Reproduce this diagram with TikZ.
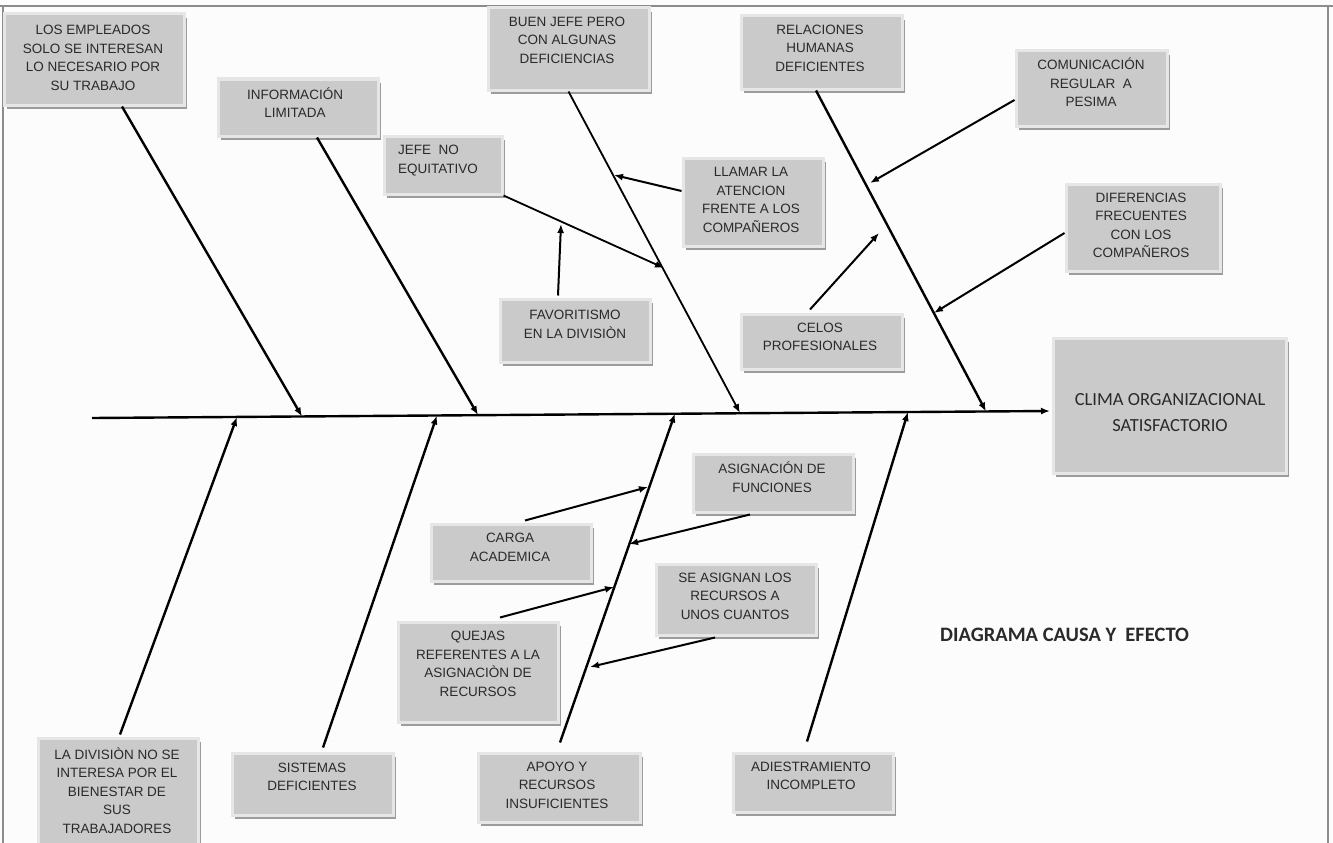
\documentclass[tikz,border=0pt]{standalone}
\usepackage{fontspec}
\setmainfont{Liberation Sans}
\newfontfamily\carlito{Carlito}
\usetikzlibrary{arrows.meta,shadows,calc}
\definecolor{boxgray}{HTML}{CACACA}
\definecolor{rimgray}{HTML}{E6E6E6}
\definecolor{shadowgray}{HTML}{9C9C9C}
\definecolor{txt}{HTML}{2A2A2A}
\definecolor{bgcol}{HTML}{FCFCFC}
\definecolor{framecol}{HTML}{8C8C8C}
\tikzset{
  cbox/.style={fill=boxgray, draw=rimgray, line width=3pt, inner sep=0pt,
    drop shadow={shadow xshift=2.5pt, shadow yshift=-4pt, fill=shadowgray, opacity=1}},
  btext/.style={font=\fontsize{13.5}{18.5}\selectfont, text=txt, align=center, inner sep=0pt,
    execute at begin node=\strut, execute at end node=\strut},
  bone/.style={line width=2.4pt, -{Latex[length=9pt,width=7pt]}},
  thinbone/.style={line width=1.8pt, -{Latex[length=9pt,width=7pt]}},
  subarrow/.style={line width=2pt, -{Latex[length=9pt,width=7pt]}},
  frameline/.style={framecol, line width=1.2pt},
}
\begin{document}
\begin{tikzpicture}[x=1pt,y=-1pt]
\useasboundingbox (0,0) rectangle (1333,843);
\fill[bgcol] (0,0) rectangle (1333,843);
\clip (0,0) rectangle (1333,843);
% page frame
\draw[frameline] (0,6) -- (1333,6);
\draw[frameline] (3,6) -- (3,843);
\draw[frameline] (1328,6) -- (1328,843);

% boxes
\node[cbox, minimum width=180pt, minimum height=91pt] (bA) at (94,59.5) {};
\node[cbox, minimum width=160pt, minimum height=57pt] (bB) at (298,107.5) {};
\node[cbox, minimum width=118pt, minimum height=58pt] (bC) at (443,165) {};
\node[cbox, minimum width=161pt, minimum height=82pt] (bD) at (568.5,49) {};
\node[cbox, minimum width=161pt, minimum height=73pt] (bE) at (821.5,52.5) {};
\node[cbox, minimum width=151pt, minimum height=75pt] (bF) at (1091.5,88.5) {};
\node[cbox, minimum width=140pt, minimum height=88pt] (bG) at (753,202) {};
\node[cbox, minimum width=154pt, minimum height=87pt] (bH) at (1143,227.5) {};
\node[cbox, minimum width=150pt, minimum height=63pt] (bI) at (575,330.5) {};
\node[cbox, minimum width=161pt, minimum height=55pt] (bJ) at (821.5,341.5) {};
\node[cbox, minimum width=233pt, minimum height=135pt] (bK) at (1169.5,405.5) {};
\node[cbox, minimum width=160pt, minimum height=121pt] (bL) at (118,798.5) {};
\node[cbox, minimum width=161pt, minimum height=62pt] (bM) at (312.5,784) {};
\node[cbox, minimum width=162pt, minimum height=69pt] (bN) at (559,787.5) {};
\node[cbox, minimum width=160pt, minimum height=59pt] (bO) at (813,782.5) {};
\node[cbox, minimum width=160pt, minimum height=57pt] (bP) at (511,552.5) {};
\node[cbox, minimum width=160pt, minimum height=100pt] (bQ) at (478,672) {};
\node[cbox, minimum width=160pt, minimum height=58pt] (bR) at (773,483) {};
\node[cbox, minimum width=160pt, minimum height=71pt] (bS) at (736,599.5) {};

% texts
\node[btext] (tA) at (93,60.5) {LOS EMPLEADOS\\SOLO SE INTERESAN\\LO NECESARIO POR\\SU TRABAJO};
\node[btext] (tB) at (295,105.5) {INFORMACIÓN\\LIMITADA};
\node[btext, align=left, anchor=west] (tC) at (398,162) {JEFE~ NO\\EQUITATIVO};
\node[btext] (tD) at (567,42.7) {BUEN JEFE PERO\\CON ALGUNAS\\DEFICIENCIAS};
\node[btext] (tE) at (820,50.7) {RELACIONES\\HUMANAS\\DEFICIENTES};
\node[btext] (tF) at (1091,85.3) {COMUNICACIÓN\\REGULAR~ A\\PESIMA};
\node[btext] (tG) at (751,202.5) {LLAMAR LA\\ATENCION\\FRENTE A LOS\\COMPAÑEROS};
\node[btext] (tH) at (1141,228) {DIFERENCIAS\\FRECUENTES\\CON LOS\\COMPAÑEROS};
\node[btext] (tI) at (575,327) {FAVORITISMO\\EN LA DIVISIÒN};
\node[btext] (tJ) at (820,339.5) {CELOS\\PROFESIONALES};
\node[text=txt, align=center, inner sep=0pt, font=\carlito\fontsize{18.5}{26}\selectfont,
  execute at begin node=\strut, execute at end node=\strut] (tK) at (1170,416)
  {CLIMA ORGANIZACIONAL\\SATISFACTORIO};
\node[btext] (tL) at (117,793) {LA DIVISIÒN NO SE\\INTERESA POR EL\\BIENESTAR DE\\SUS\\TRABAJADORES};
\node[btext] (tM) at (312,779.5) {SISTEMAS\\DEFICIENTES};
\node[btext] (tN) at (557,787.7) {APOYO Y\\RECURSOS\\INSUFICIENTES};
\node[btext] (tO) at (811,778.5) {ADIESTRAMIENTO\\INCOMPLETO};
\node[btext] (tP) at (510,550) {CARGA\\ACADEMICA};
\node[btext] (tQ) at (478,666.5) {QUEJAS\\REFERENTES A LA\\ASIGNACIÒN DE\\RECURSOS};
\node[btext] (tR) at (772,480) {ASIGNACIÓN DE\\FUNCIONES};
\node[btext] (tS) at (735,598.7) {SE ASIGNAN LOS\\RECURSOS A\\UNOS CUANTOS};
\node[text=txt, inner sep=0pt, anchor=base west, font=\carlito\bfseries\fontsize{20.5}{24}\selectfont]
  (title) at (940,641) {DIAGRAMA CAUSA Y~ EFECTO};

% spine
\coordinate (sp0) at (92,418);
\coordinate (sp1) at (1050,411);
\draw[bone] (sp0) -- (sp1);

% points on the spine
\coordinate (s1) at (302,416.5);
\coordinate (s2) at (478,415);
\coordinate (s3) at (740,413);
\coordinate (s4) at (986,411.5);
\coordinate (s5) at (237,417);
\coordinate (s6) at (437,415.5);
\coordinate (s7) at (675,413.5);
\coordinate (s8) at (908,412);

% main bones
\draw[bone] ($(bA.south)+(28,0)$) -- (s1);
\draw[bone] ($(bB.south)+(19,0)$) -- (s2);
\draw[thinbone] (bD.south) -- (s3);
\draw[bone] ($(bE.south)+(-5.5,0)$) -- (s4);
\draw[bone] ($(bL.north)+(2,-2)$) -- (s5);
\draw[bone] ($(bM.north)+(10.5,-4)$) -- (s6);
\draw[bone] ($(bN.north)+(1,-9)$) -- (s7);
\draw[bone] ($(bO.north)+(-6,-10)$) -- (s8);

% points on the bones
\coordinate (p5) at (614,175);
\coordinate (p6) at (664,268);
\coordinate (p7) at (561,224);
\coordinate (p8) at (870,183);
\coordinate (p9) at (934,313);
\coordinate (p10) at (879,233);
\coordinate (p15) at (648,487);
\coordinate (p16) at (629,544);
\coordinate (p17) at (614,587);
\coordinate (p18) at (590,667);

% secondary arrows
\draw[subarrow] ($(bG.west)+(0,-11)$) -- (p5);
\draw[thinbone] (bC.south east) -- (p6);
\draw[subarrow] ($(bI.north)+(-17,-2)$) -- (p7);
\draw[subarrow] ($(bF.west)+(0,11.5)$) -- (p8);
\draw[subarrow] ($(bH.west)+(0,5.5)$) -- (p9);
\draw[subarrow] ($(bJ.north)+(-11.5,-3)$) -- (p10);
\draw[subarrow] ($(bP.north)+(14,-2)$) -- (p15);
\draw[subarrow] ($(bR.south)+(-23,1)$) -- (p16);
\draw[subarrow] ($(bQ.north)+(22,-3)$) -- (p17);
\draw[subarrow] ($(bS.south)+(-21,1)$) -- (p18);
\end{tikzpicture}
\end{document}
